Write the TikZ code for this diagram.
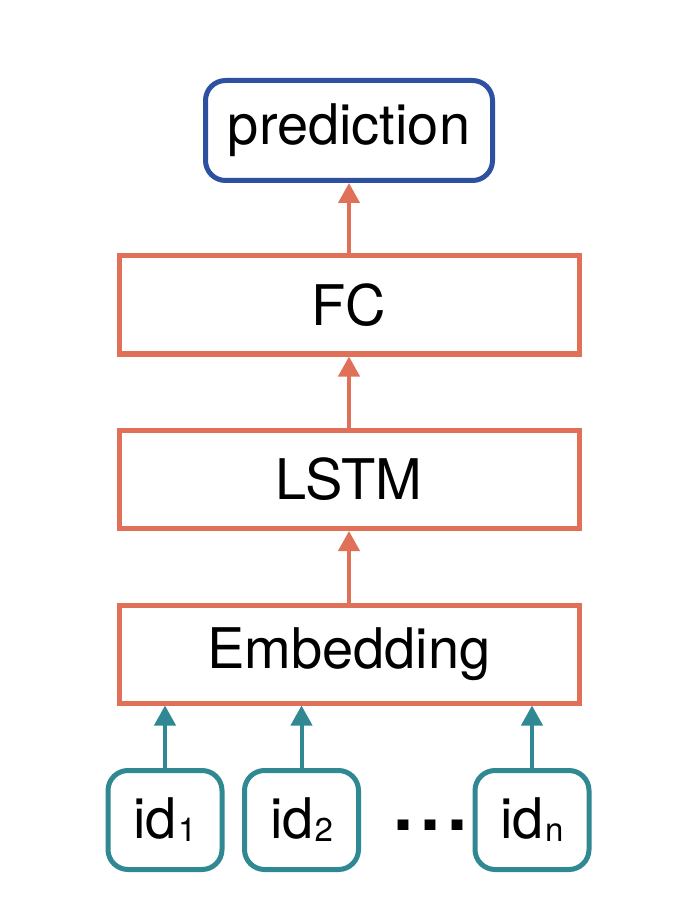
\documentclass[tikz,border=0pt]{standalone}
\usepackage{fontspec}
\setmainfont{TeX Gyre Heros}
\usepackage{tikz}
\usetikzlibrary{arrows.meta,calc,positioning}
\definecolor{netorange}{RGB}{224,112,88}
\definecolor{netblue}{RGB}{46,80,160}
\definecolor{netteal}{RGB}{48,136,146}
\newcommand{\idsub}[1]{id\kern0.5pt\raisebox{-1.5pt}{\fontsize{16.5}{16.5}\selectfont #1}}

\begin{document}
\begin{tikzpicture}[
      level distance=87.25pt,
      outbox/.style={rectangle,rounded corners=10pt,draw=netblue,line width=2.5pt,
                     minimum width=143.5pt,minimum height=50pt},
      layerbox/.style={rectangle,draw=netorange,line width=2.5pt,
                       minimum width=230pt,minimum height=49pt},
      idbox/.style={rectangle,rounded corners=10pt,draw=netteal,line width=2.5pt,
                    minimum width=57pt,minimum height=49.5pt},
      every node/.style={font=\fontsize{28}{33}\selectfont,inner sep=0pt},
      level 1/.style={nodes={layerbox}},
      level 4/.style={level distance=83pt,sibling distance=92pt,
                      nodes={idbox},edge from parent/.append style={draw=netteal}},
      edge from parent/.style={draw=netorange,line width=2pt,
                               -{Triangle[width=10.5pt,length=10pt]}},
      edge from parent path={(\tikzchildnode.north) -- (\tikzchildnode.north |- \tikzparentnode.south)}]
    \useasboundingbox (0,0) rectangle (347pt,-448.5pt);
    \node[outbox] (pred) at (174.5pt,-65.25pt) {prediction}
      child { node (fc) {FC}
        child { node (lstm) {LSTM}
          child { node (emb) {Embedding}
            child { node (id1) {\idsub{1}} }
            child { node[xshift=-23.75pt] (id2) {\idsub{2}} }
            child { node[xshift=-0.5pt] (idn) {\idsub{n}} } } } };
    \node[font=\fontsize{36}{40}\selectfont\bfseries,anchor=base]
      (dots) at ($(id2.base)!0.5!(idn.base)+(7pt,4pt)$) {.\kern3.5pt.\kern3.5pt.};
  \end{tikzpicture}
\end{document}
